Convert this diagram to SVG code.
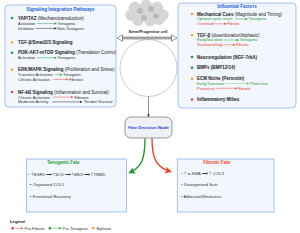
<svg xmlns="http://www.w3.org/2000/svg" width="300" height="233" viewBox="0 0 300 233">
<style>
text{font-family:"Liberation Sans",Arial,sans-serif}
.box{fill:#f2f6fd;stroke:#8fb3f0;stroke-width:0.8}
.ttl{font-size:4.6px;font-weight:bold;fill:#2660d8;text-anchor:middle}
.h{font-size:4.5px;fill:#222}
.h tspan.b{font-weight:bold}
.s{font-size:4px;fill:#333}
.g{fill:#1f9a35}
.r{fill:#e8402f}
.lg{stroke:#2ca33f;stroke-width:0.5;fill:none}
.lr{stroke:#e84a3c;stroke-width:0.5;fill:none}
.lk{stroke:#222;stroke-width:0.5;fill:none}
.cell{fill:#d6d6d6;stroke:#c0c0c0;stroke-width:0.3}
.nuc{fill:#b8b8b8}
.it{font-size:4.2px;fill:#333}
</style>
<defs>
<marker id="mg" markerUnits="userSpaceOnUse" markerWidth="2.4" markerHeight="2.4" refX="2.2" refY="1.2" orient="auto"><path d="M0,0 L2.4,1.2 L0,2.4z" fill="#2ca33f"/></marker>
<marker id="mr" markerUnits="userSpaceOnUse" markerWidth="2.4" markerHeight="2.4" refX="2.2" refY="1.2" orient="auto"><path d="M0,0 L2.4,1.2 L0,2.4z" fill="#e84a3c"/></marker>
<marker id="mk" markerUnits="userSpaceOnUse" markerWidth="2.4" markerHeight="2.4" refX="2.2" refY="1.2" orient="auto"><path d="M0,0 L2.4,1.2 L0,2.4z" fill="#222"/></marker>
<marker id="bigg" markerUnits="userSpaceOnUse" markerWidth="7" markerHeight="7" refX="5" refY="3.5" orient="auto"><path d="M0,0 L7,3.5 L0,7 L1.5,3.5z" fill="#1f9a35"/></marker>
<marker id="bigr" markerUnits="userSpaceOnUse" markerWidth="7" markerHeight="7" refX="5" refY="3.5" orient="auto"><path d="M0,0 L7,3.5 L0,7 L1.5,3.5z" fill="#ef4527"/></marker>
<marker id="mv" markerUnits="userSpaceOnUse" markerWidth="3" markerHeight="3" refX="2.8" refY="1.5" orient="auto"><path d="M0,0 L3,1.5 L0,3z" fill="#444"/></marker>
<clipPath id="cl"><rect x="5" y="5" width="111" height="102" rx="4"/></clipPath>
</defs>

<g id="signaling">
<rect class="box" x="5" y="5" width="111" height="102" rx="4"/>
<text class="ttl" x="60.5" y="11.3">Signaling Integration Pathways</text>
<g clip-path="url(#cl)">
<circle cx="12" cy="18" r="1.3" class="g"/>
<text class="h" x="18" y="19.6"><tspan class="b">YAP/TAZ</tspan> (Mechanotransduction)</text>
<text class="s" x="18" y="25">Activation</text><path class="lg" d="M37,23.6H56.5" marker-end="url(#mg)"/><text class="s" x="57.5" y="25">Tenogenic</text>
<text class="s" x="18" y="29.8">Inhibition</text><path class="lk" d="M35.5,28.4H56.5" marker-end="url(#mk)"/><text class="s" x="57.5" y="29.8">Non-Tenogenic</text>
<circle cx="12" cy="42.5" r="1.3" fill="#f4a32a"/>
<text class="h" x="18" y="44.1"><tspan class="b">TGF-β/Smad2/3 Signaling</tspan></text>
<circle cx="12" cy="52.7" r="1.3" class="g"/>
<text class="h" x="18" y="54.3"><tspan class="b">PI3K-AKT-mTOR Signaling</tspan> (Translation Control)</text>
<text class="s" x="18" y="59.2">Activation</text><path class="lg" d="M37,57.8H56.5" marker-end="url(#mg)"/><text class="s" x="57.5" y="59.2">Tenogenic</text>
<circle cx="12" cy="69.7" r="1.3" fill="#f4a32a"/>
<text class="h" x="18" y="71.3"><tspan class="b">ERK/MAPK Signaling</tspan> (Proliferation and Stress)</text>
<text class="s" x="18" y="76">Transient Activation</text><path class="lg" d="M54.5,74.6H62" marker-end="url(#mg)"/><text class="s" x="63" y="76">Tenogenic</text>
<text class="s" x="18" y="80.8">Chronic Activation</text><path class="lr" d="M53,79.4H68" marker-end="url(#mr)"/><text class="s" x="69" y="80.8">Fibrosis</text>
<circle cx="12" cy="92" r="1.3" class="r"/>
<text class="h" x="18" y="93.6"><tspan class="b">NF-kB Signaling</tspan> (Inflammation and Survival)</text>
<text class="s" x="18" y="98.5">Chronic Activation</text><path class="lr" d="M53,97.1H73" marker-end="url(#mr)"/><text class="s" x="74.5" y="98.5">Fibrosis</text>
<text class="s" x="18" y="103.3">Moderate Activity</text><path class="lk" d="M52,101.9H82" marker-end="url(#mk)"/><text class="s" x="84" y="103.3">Tendon Survival</text>
</g>
</g>

<g id="factors">
<rect class="box" x="178" y="3" width="118" height="105" rx="4"/>
<text class="ttl" x="237" y="7.8">Influential Factors</text>
<circle cx="192" cy="14" r="1.3" fill="#f4a32a"/>
<text class="h" x="197" y="15.6"><tspan class="b">Mechanical Cues</tspan> (Magnitude and Timing)</text>
<text class="s g" x="197" y="20.4">Optimal cyclic strain</text><path class="lg" d="M235,19H247.5" marker-end="url(#mg)"/><text class="s g" x="248.5" y="20.4">Tenogenic</text>
<text class="s r" x="197" y="25.2">Overload</text><path class="lr" d="M213.5,23.8H226" marker-end="url(#mr)"/><text class="s r" x="227" y="25.2">Fibrotic</text>
<circle cx="192" cy="35" r="1.3" fill="#f4a32a"/>
<text class="h" x="197" y="36.6"><tspan class="b">TGF-β</tspan> (dose/duration/biphasic)</text>
<text class="s g" x="197" y="41.4">Early/low dose</text><path class="lg" d="M224,40H238.5" marker-end="url(#mg)"/><text class="s g" x="239.5" y="41.4">Tenogenic</text>
<text class="s r" x="197" y="46.2">Sustained/high</text><path class="lr" d="M224.5,44.8H235" marker-end="url(#mr)"/><text class="s r" x="236" y="46.2">Fibrotic</text>
<circle cx="192" cy="57" r="1.3" class="g"/>
<text class="h" x="197" y="58.6"><tspan class="b">Neuroregulation (NGF-TrkA)</tspan></text>
<circle cx="192" cy="67.7" r="1.3" class="g"/>
<text class="h" x="197" y="69.3"><tspan class="b">BMPs (BMP12/14)</tspan></text>
<circle cx="192" cy="78.7" r="1.3" fill="#f4a32a"/>
<text class="h" x="197" y="80.3"><tspan class="b">ECM Niche (Periostin)</tspan></text>
<text class="s g" x="197" y="84.9">Early/Transient</text><path d="M225.5,83.5H249" stroke="#7fcf8a" stroke-width="0.5" marker-end="url(#mg)"/><text class="s g" x="250" y="84.9">Protective</text>
<text class="s r" x="197" y="89.7">Persistent</text><path class="lr" d="M216,88.3H237" marker-end="url(#mr)"/><text class="s r" x="238" y="89.7">Fibrotic</text>
<circle cx="192" cy="99.5" r="1.3" class="r"/>
<text class="h" x="197" y="101.1"><tspan class="b">Inflammatory Milieu</tspan></text>
</g>

<g id="stemcell">
<circle class="cell" cx="135" cy="8" r="6"/>
<circle class="cell" cx="146" cy="5.5" r="5.5"/>
<circle class="cell" cx="157" cy="8" r="6"/>
<circle class="cell" cx="131" cy="15" r="5.5"/>
<circle class="cell" cx="163" cy="15" r="5.5"/>
<circle class="cell" cx="138" cy="20" r="5.5"/>
<circle class="cell" cx="150" cy="20.5" r="5.5"/>
<circle class="cell" cx="159" cy="20" r="5"/>
<circle class="cell" cx="147" cy="13" r="7"/>
<circle class="nuc" cx="140" cy="11" r="3"/>
<circle class="nuc" cx="151" cy="9" r="3"/>
<circle class="nuc" cx="144" cy="18" r="2.8"/>
<circle class="nuc" cx="156" cy="16" r="2.8"/>
<text x="148" y="33" font-size="4px" font-weight="bold" fill="#222" text-anchor="middle">Stem/Progenitor cell</text>
</g>

<g id="connectors">
<rect x="122" y="37" width="50" height="2" fill="#bdbdbd" stroke="#333" stroke-width="0.4"/>
<path d="M117,38 L122.5,34.8 L122.5,41.2z" fill="#fff" stroke="#333" stroke-width="0.5"/>
<path d="M177,38 L171.5,34.8 L171.5,41.2z" fill="#fff" stroke="#333" stroke-width="0.5"/>
<circle cx="148.5" cy="68" r="28.5" fill="none" stroke="#999" stroke-width="0.5"/>
<path d="M148.5,96.5V117" stroke="#444" stroke-width="0.6" marker-end="url(#mv)"/>
<path d="M145,138.5 C145,158 142,167 130,172.5" fill="none" stroke="#1f9a35" stroke-width="1.4" marker-end="url(#bigg)"/>
<path d="M152,138.5 C152,158 156,167 170,171.5" fill="none" stroke="#ef4527" stroke-width="1.4" marker-end="url(#bigr)"/>
</g>

<g id="decision">
<rect x="125" y="117" width="47" height="21" rx="6" fill="#eef1f7" stroke="#555" stroke-width="0.6"/>
<text x="148.5" y="129" font-size="4.4px" font-weight="bold" fill="#1f3fd0" text-anchor="middle">Fate Decision Node</text>
</g>

<g id="tenogenic">
<rect class="box" x="26.5" y="159" width="100" height="53"/>
<text x="63.3" y="164.3" font-size="4.5px" font-weight="bold" fill="#1f9a35" text-anchor="middle">Tenogenic Fate</text>
<text class="it" x="28" y="175.6">•  <tspan font-size="6px">↑</tspan>EGR1 <tspan>⟶</tspan><tspan font-size="6px">↑</tspan>SCX <tspan>⟶</tspan><tspan font-size="6px">↑</tspan>MKX <tspan>⟶</tspan><tspan font-size="6px">↑</tspan>TNMD</text>
<text class="it" x="30" y="186">▪  Organized COL1</text>
<text class="it" x="30" y="197.5">▪  Functional Recovery</text>
</g>

<g id="fibrotic">
<rect class="box" x="177.3" y="159" width="96.7" height="53"/>
<text x="216.7" y="164.3" font-size="4.5px" font-weight="bold" fill="#ef4527" text-anchor="middle">Fibrotic Fate</text>
<text class="it" x="181" y="175">•  <tspan font-size="6px">↑</tspan> α-SMA <tspan>⟶</tspan> <tspan font-size="6px">↑</tspan> COL3</text>
<text class="it" x="181" y="186">•  Disorganized Scar</text>
<text class="it" x="181" y="197.5">•  Adhesion/Weakness</text>
</g>

<g id="legend">
<text x="10" y="223" font-size="4.2px" font-weight="bold" fill="#222">Legend</text>
<circle cx="12.7" cy="228.3" r="1.3" class="r"/>
<path class="lr" d="M15,228.3H23" marker-end="url(#mr)"/>
<text class="s" x="24.5" y="229.7">Pro-Fibrotic</text>
<circle cx="50" cy="228.3" r="1.3" class="g"/>
<path class="lg" d="M52.7,228.3H61.2" marker-end="url(#mg)"/>
<text class="s" x="62.5" y="229.7">Pro-Tenogenic</text>
<circle cx="93.3" cy="228.3" r="1.3" fill="#f4a32a"/>
<text class="s" x="96.5" y="229.7">Biphasic</text>
</g>
</svg>
